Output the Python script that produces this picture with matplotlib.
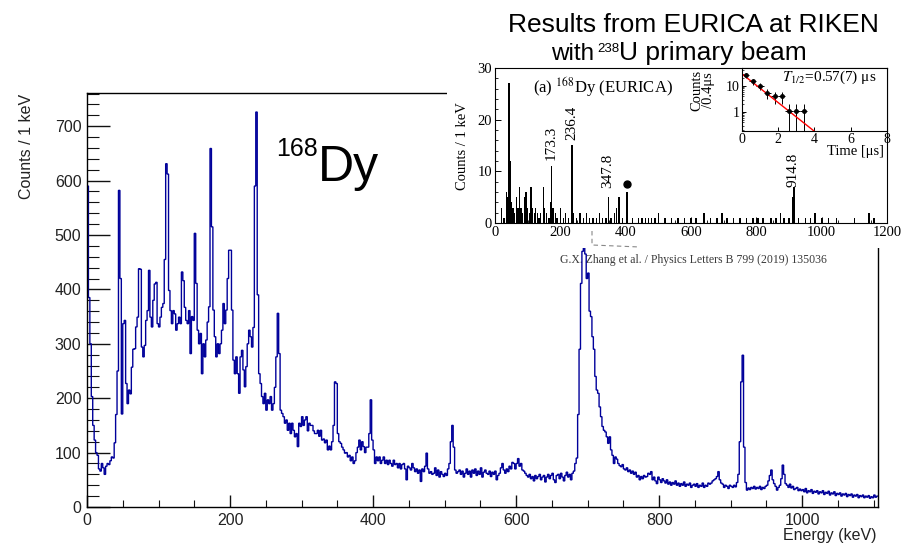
import numpy as np
import matplotlib
matplotlib.use("Agg")
import matplotlib.pyplot as plt
from matplotlib.patches import Rectangle
from matplotlib.lines import Line2D
from matplotlib.ticker import MultipleLocator, NullFormatter, LogLocator

plt.rcParams['font.family'] = ['Liberation Sans', 'DejaVu Sans']
plt.rcParams['mathtext.fontset'] = 'stix'
SERIF = ['Liberation Serif', 'DejaVu Serif']

# main spectrum, counts per 2 keV bin
bin_width = 2
counts_000 = [590, 385, 300, 203, 150, 123, 100, 95, 70, 66,
              80, 72, 60, 75, 80, 78, 85, 92, 90, 118,
              170, 250, 582, 420, 171, 337, 343, 227, 190, 215,
              208, 257, 290, 291, 331, 349, 438, 437, 294, 276,
              297, 343, 361, 435, 349, 331, 380, 410, 413, 337]
counts_100 = [331, 349, 367, 374, 455, 631, 612, 398, 361, 337,
              361, 355, 325, 337, 349, 337, 432, 416, 367, 343,
              337, 361, 282, 350, 343, 503, 411, 325, 300, 319,
              245, 300, 276, 307, 340, 368, 659, 515, 362, 313,
              276, 300, 282, 300, 325, 374, 337, 362, 420, 472]
counts_200 = [472, 362, 270, 245, 276, 245, 209, 276, 288, 252,
              221, 258, 300, 325, 313, 294, 330, 590, 726, 390,
              245, 227, 203, 190, 209, 178, 197, 190, 203, 178,
              190, 220, 276, 356, 282, 178, 172, 166, 154, 160,
              141, 154, 135, 154, 141, 129, 135, 111, 154, 148]
counts_300 = [166, 150, 160, 166, 140, 154, 150, 150, 140, 135,
              135, 141, 130, 141, 123, 125, 118, 123, 105, 112,
              105, 120, 150, 230, 227, 135, 120, 117, 110, 105,
              99, 100, 92, 95, 85, 92, 80, 85, 100, 110,
              123, 105, 120, 111, 100, 110, 110, 135, 197, 123]
counts_400 = [105, 80, 92, 85, 92, 80, 86, 92, 80, 86,
              78, 86, 80, 75, 86, 78, 80, 72, 80, 70,
              78, 80, 70, 50, 75, 72, 68, 80, 72, 65,
              70, 62, 68, 47, 70, 65, 75, 99, 70, 62,
              65, 60, 62, 72, 58, 68, 55, 65, 60, 56]
counts_500 = [62, 58, 70, 80, 120, 150, 110, 68, 62, 65,
              68, 60, 66, 55, 62, 70, 60, 66, 55, 68,
              62, 70, 58, 66, 60, 72, 55, 64, 68, 62,
              60, 66, 56, 64, 60, 66, 50, 58, 62, 72,
              80, 68, 62, 70, 65, 75, 70, 82, 80, 70]
counts_600 = [80, 89, 75, 80, 68, 66, 62, 58, 55, 60,
              52, 56, 48, 58, 52, 56, 60, 50, 55, 58,
              46, 55, 60, 52, 58, 62, 50, 45, 58, 60,
              52, 62, 55, 48, 58, 64, 55, 60, 50, 62,
              66, 80, 90, 170, 290, 411, 470, 478, 465, 420]
counts_700 = [430, 360, 350, 313, 290, 240, 215, 209, 184, 166,
              148, 141, 138, 129, 117, 129, 105, 95, 80, 92,
              88, 80, 76, 74, 78, 70, 68, 72, 65, 68,
              62, 66, 60, 64, 55, 58, 50, 56, 52, 58,
              55, 56, 62, 60, 65, 50, 55, 48, 43, 55]
counts_800 = [50, 45, 52, 48, 44, 50, 42, 46, 40, 45,
              42, 48, 40, 44, 38, 43, 40, 46, 38, 42,
              40, 44, 36, 40, 42, 38, 43, 36, 40, 38,
              44, 36, 40, 38, 44, 42, 44, 48, 50, 52,
              56, 65, 50, 44, 42, 36, 40, 38, 34, 40]
counts_900 = [38, 36, 40, 37, 45, 60, 120, 230, 279, 110,
              45, 31, 35, 32, 36, 34, 38, 33, 36, 34,
              38, 32, 36, 34, 38, 40, 48, 58, 68, 50,
              43, 38, 31, 36, 40, 52, 77, 60, 43, 40,
              36, 42, 35, 38, 32, 34, 36, 30, 33, 30]
counts_1000 = [32, 28, 34, 26, 30, 28, 32, 25, 29, 27,
               30, 24, 28, 26, 30, 23, 27, 25, 29, 22,
               26, 24, 28, 21, 25, 23, 26, 20, 24, 22,
               25, 19, 23, 21, 24, 18, 22, 20, 23, 17,
               21, 19, 22, 17, 20, 18, 21, 16, 19, 17,
               22, 18, 20]

# inset (paper figure) spectrum
inset_energy = [20, 28, 36, 40, 43, 47, 50, 55, 60, 65, 70, 75, 80, 85, 90, 95,
                100, 105, 110, 115, 120, 125, 130, 135, 140, 148, 152, 158, 165,
                170, 173, 178, 185, 190, 200, 210, 215, 225, 236, 240, 250, 260,
                270, 280, 290, 300, 310, 320, 330, 340, 348, 355, 365, 372, 380,
                390, 404, 420, 440, 450, 460, 470, 480, 490, 500, 520, 540, 560,
                580, 600, 615, 640, 660, 680, 695, 710, 730, 750, 770, 790, 805,
                820, 845, 860, 875, 885, 900, 912, 915, 930, 950, 965, 980, 1000,
                1020, 1045, 1100, 1145, 1160]
inset_counts = [3, 1, 6, 5, 27, 12, 4, 3, 2, 5, 3, 7, 3, 2, 5, 6,
                3, 2, 7, 3, 2, 3, 2, 1, 2, 7, 3, 2, 1,
                4, 11, 3, 2, 1, 3, 1, 2, 1, 15, 2, 1, 2,
                1, 2, 1, 1, 1, 2, 1, 1, 5, 1, 2, 3, 5,
                1, 6, 1, 1, 1, 1, 1, 1, 1, 2, 1, 1, 1,
                1, 1, 1, 2, 1, 1, 2, 1, 1, 1, 1, 1, 1,
                1, 1, 1, 2, 1, 1, 5, 7, 1, 1, 1, 2, 1,
                1, 1, 1, 2, 1]
peak_labels = ['173.3', '236.4', '347.8', '914.8']
peak_label_e = [171, 234, 344, 911]
peak_label_y = [12.2, 16.0, 6.8, 7.0]
dot_e, dot_y = 404, 7.5

# decay curve
decay_t = [0.2, 0.6, 1.0, 1.4, 1.8, 2.2, 2.6, 3.0, 3.4]
decay_n = [26, 15, 10, 5.5, 4.1, 4.1, 1.1, 1.1, 1.1]
decay_err = [5, 3.9, 3.2, 2.3, 2.0, 2.0, 1.0, 1.0, 1.0]
fit_t = [0.0, 4.0]
fit_n = [29, 0.18]

W, H = 912, 543
def fx(px):
    return px / W
def fy(py):
    return 1 - py / H

fig = plt.figure(figsize=(W / 100, H / 100), dpi=100)

# ---- main spectrum
ax = fig.add_axes([fx(87), fy(507), (878 - 87) / W, (507 - 93) / H])
spectrum = np.array(counts_000 + counts_100 + counts_200 + counts_300 + counts_400 +
                    counts_500 + counts_600 + counts_700 + counts_800 + counts_900 +
                    counts_1000)
edges = np.arange(len(spectrum) + 1) * bin_width
ax.stairs(spectrum, edges, baseline=None, color='#00009a', lw=1.0, zorder=2)
ax.set_xlim(0, edges[-1])
ax.set_ylim(0, 761)
ax.xaxis.set_major_locator(MultipleLocator(200))
ax.xaxis.set_minor_locator(MultipleLocator(50))
ax.yaxis.set_major_locator(MultipleLocator(100))
ax.yaxis.set_minor_locator(MultipleLocator(20))
ax.tick_params(which='both', direction='in', top=False, right=False,
               labelsize=11.5, labelcolor='#222222', color='#111111')
ax.tick_params(axis='y', which='major', length=16.5, width=1.0, pad=4)
ax.tick_params(axis='y', which='minor', length=8.5, width=0.8)
ax.tick_params(axis='x', which='major', length=8.6, width=1.0, pad=4)
ax.tick_params(axis='x', which='minor', length=5, width=0.8)
for s in ax.spines.values():
    s.set_linewidth(1.0)
ax.text(fx(693), fy(260), 'G.X. Zhang et al. / Physics Letters B 799 (2019) 135036',
        transform=fig.transFigure, ha='center', va='center', fontsize=8.5,
        family=SERIF, color='#3a3a3a', zorder=1)

fig.text(fx(27), fy(94), 'Counts / 1 keV', rotation=90, ha='center', va='top',
         fontsize=11.5, color='#222222')
fig.text(fx(877), fy(540), 'Energy (keV)', ha='right', va='baseline',
         fontsize=11.5, color='#222222')
fig.text(fx(276), fy(137), '168', ha='left', va='top', fontsize=18)
fig.text(fx(318), fy(181), 'Dy', ha='left', va='baseline', fontsize=36)

# ---- white panel with the paper figure
fig.add_artist(Rectangle((fx(447), fy(248)), 1 - fx(447), 1 - fy(248),
                         transform=fig.transFigure, facecolor='white',
                         edgecolor='none', zorder=1))

fig.text(fx(693), fy(32), 'Results from EURICA at RIKEN', ha='center',
         va='baseline', fontsize=19, zorder=5)
fig.text(fx(594), fy(60), 'with', ha='right', va='baseline', fontsize=17.5, zorder=5)
fig.text(fx(597), fy(43), '238', ha='left', va='top', fontsize=9.5, zorder=5)
fig.text(fx(619), fy(60), 'U primary beam', ha='left', va='baseline',
         fontsize=19, zorder=5)

ax_in = fig.add_axes([fx(495), fy(223), (887 - 495) / W, (223 - 68) / H], zorder=2)
ax_in.bar(inset_energy, inset_counts, width=4, color='black', lw=0)
ax_in.set_xlim(0, 1200)
ax_in.set_ylim(0, 30)
ax_in.xaxis.set_major_locator(MultipleLocator(200))
ax_in.xaxis.set_minor_locator(MultipleLocator(50))
ax_in.yaxis.set_major_locator(MultipleLocator(10))
ax_in.yaxis.set_minor_locator(MultipleLocator(2))
ax_in.tick_params(which='both', direction='in', labelsize=10.5,
                  labelfontfamily='Liberation Serif', pad=2)
ax_in.tick_params(which='major', length=4, width=0.7)
ax_in.tick_params(which='minor', length=2, width=0.6)
for s in ax_in.spines.values():
    s.set_linewidth(0.8)
fig.text(fx(463), fy(146), 'Counts / 1 keV', rotation=90, ha='center',
         va='center', fontsize=10.5, family=SERIF, zorder=5)
ax_in.text(0.097, 0.88, '(a) $^{168}$Dy (EURICA)', transform=ax_in.transAxes,
           fontsize=12, family=SERIF, va='center', ha='left')
for lab, e, y in zip(peak_labels, peak_label_e, peak_label_y):
    ax_in.text(e, y, lab, rotation=90, ha='center', va='bottom',
               fontsize=11, family=SERIF)
ax_in.plot([dot_e], [dot_y], 'o', color='black', ms=5)
fig.add_artist(Line2D([fx(592), fx(592), fx(640)], [fy(231), fy(245), fy(247)],
                      transform=fig.transFigure, color='#888888', lw=0.8,
                      ls=(0, (4, 3)), zorder=5))

# ---- decay curve
ax_d = fig.add_axes([fx(742), fy(131), (887 - 742) / W, (131 - 68) / H], zorder=3)
ax_d.set_yscale('log')
ax_d.errorbar(decay_t, decay_n, yerr=[[min(e, n - 0.01) for e, n in zip(decay_err, decay_n)],
                                      decay_err],
              xerr=0.2, fmt='o', color='black', ms=2.5, elinewidth=0.7, capsize=0)
ax_d.plot(fit_t, fit_n, color='red', lw=1.0)
ax_d.set_xlim(0, 8)
ax_d.set_ylim(0.186, 49)
ax_d.set_xticks([0, 2, 4, 6, 8])
ax_d.set_yticks([1, 10])
ax_d.set_yticklabels(['1', '10'])
ax_d.yaxis.set_minor_locator(LogLocator(subs=np.arange(2, 10)))
ax_d.yaxis.set_minor_formatter(NullFormatter())
ax_d.tick_params(which='both', direction='in', labelsize=10,
                 labelfontfamily='Liberation Serif', pad=1.5)
ax_d.tick_params(which='major', length=3, width=0.7)
ax_d.tick_params(which='minor', length=1.5, width=0.5)
for s in ax_d.spines.values():
    s.set_linewidth(0.8)
ax_d.text(0.93, 0.85, '$T_{1/2}$=0.57(7) μs', transform=ax_d.transAxes,
          ha='right', va='center', fontsize=11, family=SERIF)
fig.text(fx(884), fy(152), 'Time [μs]', ha='right', va='center', fontsize=10.5,
         family=SERIF, zorder=5)
fig.text(fx(703), fy(90), 'Counts\n/0.4μs', rotation=90, ha='center', va='center',
         fontsize=10.5, family=SERIF, linespacing=0.85, zorder=5)

fig.savefig('out.png', dpi=100)
